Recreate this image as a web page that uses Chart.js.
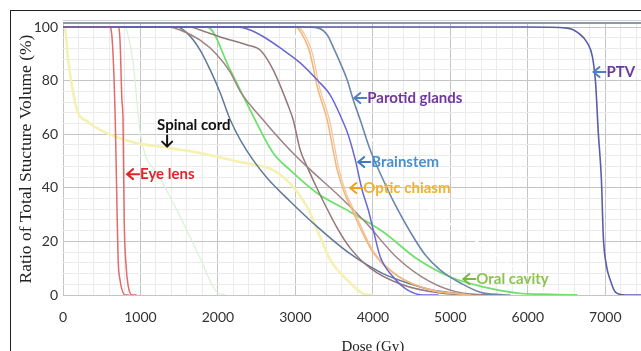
<!DOCTYPE html>
<html>
<head>
<meta charset="utf-8">
<script src="https://cdn.jsdelivr.net/npm/chart.js@4.4.1/dist/chart.umd.min.js"></script>
<style>
    html, body { margin: 0; padding: 0; background: #fff; overflow: hidden; }
    body { width: 641px; height: 351px; position: relative; }
    .frame { position: absolute; left: 10px; top: 10px; width: 720px; height: 420px; border: 1px solid #222; }
    #dvh { position: absolute; left: 0; top: 0; }
</style>
</head>
<body>
<div class="frame"></div>
<canvas id="dvh" width="713" height="375"></canvas>
<script>
'use strict';

// Dose (Gy) / volume (%) pairs
const ptvDose = [0, 6000, 6510, 6650, 6770, 6835, 6875, 6910, 6950, 6975, 7015, 7065, 7130, 7260, 8000];
const ptvVol = [100, 100, 99.6, 97.8, 94, 88.8, 79, 60.5, 43, 21.5, 11, 5.5, 1.1, 0, 0];

const lensADose = [0, 600, 630, 660, 675, 700, 712, 736, 762, 800, 850];
const lensAVol = [100, 100, 97, 80, 65, 28, 13, 5.6, 1.9, 0, 0];
const lensBDose = [0, 710, 736, 760, 775, 790, 814, 840, 890, 950];
const lensBVol = [100, 100, 95, 73, 65, 28, 11, 3.7, 0, 0];

const cordDose = [0, 26, 65, 116, 181, 323, 478, 904, 1344, 1770, 2287, 2713, 2972, 3152, 3282, 3450, 3708, 3876, 4000];
const cordVol = [100, 99.6, 88, 78, 69, 64.6, 61.6, 57, 55, 53, 49.6, 46.6, 40.3, 32.8, 24.3, 13.1, 4.5, 0.5, 0];

const paleDose = [0, 800, 830, 900, 1000, 1250, 1500, 1750, 1990, 2100];
const paleVol = [100, 100, 98, 88, 60, 44, 30, 15, 1, 0];

const oralDose = [0, 1860, 2158, 2416, 2713, 2933, 3282, 3708, 4134, 4574, 5000, 5426, 5866, 6300, 6640];
const oralVol = [100, 100, 84, 69, 53, 46.6, 38, 31, 23.5, 13.4, 6.7, 3, 0.7, 0.2, 0];

const slateDose = [0, 1470, 1600, 1770, 1900, 2030, 2160, 2290, 2450, 2640, 2930, 3280, 3700, 4130, 4500, 4750, 5250];
const slateVol = [100, 100, 97.8, 91.4, 84, 75.4, 65.3, 57.8, 50.5, 43.5, 35, 25.5, 15.5, 8, 4, 2, 0];

const brownADose = [0, 1357, 1512, 1770, 1990, 2158, 2287, 2584, 2868, 3152, 3579, 3902, 4315, 4742, 5168, 5646];
const brownAVol = [100, 100, 98.9, 95.1, 89.6, 83.2, 76, 65.3, 56, 47.8, 36.6, 27.2, 13.8, 4.9, 0.7, 0];
const brownBDose = [0, 1641, 1770, 2028, 2377, 2545, 2713, 2894, 2972, 3062, 3152, 3320, 3540, 3708, 3966, 4354, 4871, 5388];
const brownBVol = [100, 100, 98.9, 96.3, 93.3, 91.4, 84, 71.6, 65.3, 54.1, 47.8, 37.3, 25, 17.5, 10, 4.1, 0.7, 0];

const chiasmADose = [0, 3000, 3127, 3191, 3282, 3411, 3488, 3540, 3643, 3734, 3837, 4005, 4315, 4742, 5258];
const chiasmBDose = [0, 3030, 3157, 3221, 3310, 3440, 3515, 3565, 3665, 3755, 3857, 4022, 4330, 4755, 5270];
const chiasmVol = [100, 100, 95, 90, 77.6, 65.3, 54, 46.6, 37.3, 31.7, 25, 15.7, 7.1, 1.9, 0];

const brainDose = [0, 2250, 2416, 2610, 2842, 3062, 3282, 3450, 3579, 3682, 3773, 3863, 3941, 4005, 4096, 4264, 4444, 4651, 4850];
const brainVol = [100, 100, 98.9, 96, 91.4, 86.6, 80.2, 74.6, 67, 59.7, 50.4, 39, 31.7, 24.3, 14.2, 6.7, 1.9, 0, 0];

const parotidDose = [0, 3062, 3295, 3411, 3488, 3579, 3669, 3747, 3837, 3966, 4134, 4289, 4483, 4677, 4871, 5129, 5426, 5775];
const parotidVol = [100, 100, 99.6, 97, 92.5, 86.6, 80.2, 72.8, 65.3, 54.1, 42.9, 33.6, 23.5, 14.9, 9.3, 4.5, 0.7, 0];

const whiteDose = [0, 2800, 2970, 3280, 3540, 3800, 4060, 4260, 4700, 5260, 5740, 6070, 6230];
const whiteVol = [100, 100, 97.8, 81.3, 72.8, 65.3, 55.2, 46.6, 32.8, 21.6, 11.9, 5.6, 0];

const xTicksMajor = [0, 1000, 2000, 3000, 4000, 5000, 6000, 7000, 8000];
const yTicksMajor = [0, 20, 40, 60, 80, 100];

// arrow labels: arrow tip in data units
const notes = [
    { text: 'PTV', dose: 6848, vol: 83.2, color: '#6a3a9c', arrow: '#4f7fc2' },
    { text: 'Parotid glands', dose: 3760, vol: 73.5, color: '#7236a0', arrow: '#4f7fc2' },
    { text: 'Brainstem', dose: 3811, vol: 49.6, color: '#4a8fcc', arrow: '#3f78c0' },
    { text: 'Optic chiasm', dose: 3708, vol: 39.9, color: '#f2b22e', arrow: '#f0a020' },
    { text: 'Oral cavity', dose: 5168, vol: 6, color: '#8cc453', arrow: '#7ab840' },
    { text: 'Eye lens', dose: 827, vol: 45.1, color: '#e2242a', arrow: '#e2242a' }
];
const cordNote = { text: 'Spinal cord', dose: 1344, vol: 55 };

function pts(doses, vols) {
    return doses.map((d, i) => ({ x: d, y: vols[i] }));
}

function line(data, color, width) {
    return {
        data,
        borderColor: color,
        borderWidth: width || 1.5,
        pointRadius: 0,
        fill: false,
        cubicInterpolationMode: 'monotone'
    };
}

const labelFont = 'bold 15px Lato, "Open Sans", sans-serif';

const annotate = {
    id: 'annotate',
    afterDatasetsDraw(chart) {
        const { ctx, chartArea, scales: { x, y } } = chart;
        ctx.save();

        // top rule of the plot
        ctx.strokeStyle = '#cfd4da';
        ctx.lineWidth = 1;
        ctx.beginPath();
        ctx.moveTo(chartArea.left, chartArea.top - 2.5);
        ctx.lineTo(chartArea.right, chartArea.top - 2.5);
        ctx.stroke();
        ctx.strokeStyle = '#8e99a8';
        ctx.lineWidth = 2;
        ctx.beginPath();
        ctx.moveTo(chartArea.left, chartArea.top);
        ctx.lineTo(chartArea.right, chartArea.top);
        ctx.stroke();

        ctx.font = labelFont;
        ctx.textBaseline = 'middle';
        ctx.textAlign = 'left';
        ctx.lineCap = 'round';
        notes.forEach((n) => {
            const px = x.getPixelForValue(n.dose);
            const py = y.getPixelForValue(n.vol);
            ctx.strokeStyle = n.arrow;
            ctx.lineWidth = 2;
            ctx.beginPath();
            ctx.moveTo(px + 6, py - 5);
            ctx.lineTo(px, py);
            ctx.lineTo(px + 6, py + 5);
            ctx.moveTo(px, py);
            ctx.lineTo(px + 12, py);
            ctx.stroke();
            ctx.fillStyle = n.color;
            ctx.fillText(n.text, px + 13, py);
        });

        const cx = x.getPixelForValue(cordNote.dose);
        const cy = y.getPixelForValue(cordNote.vol);
        ctx.fillStyle = '#111';
        ctx.fillText(cordNote.text, cx - 10, cy - 22);
        ctx.strokeStyle = '#111';
        ctx.lineWidth = 2;
        ctx.beginPath();
        ctx.moveTo(cx, cy - 12);
        ctx.lineTo(cx, cy - 1);
        ctx.moveTo(cx - 5, cy - 6);
        ctx.lineTo(cx, cy - 1);
        ctx.lineTo(cx + 5, cy - 6);
        ctx.stroke();

        ctx.restore();
    }
};

new Chart(document.getElementById('dvh'), {
    type: 'line',
    data: {
        datasets: [
            line(pts(ptvDose, ptvVol), '#5b5ea8', 1.6),
            line(pts(lensADose, lensAVol), '#e46a6a', 1.5),
            line(pts(lensBDose, lensBVol), '#e46a6a', 1.5),
            line(pts(brainDose, brainVol), '#6868d4', 1.5),
            line(pts(parotidDose, parotidVol), '#6c87ad', 1.6),
            line(pts(chiasmADose, chiasmVol), '#f3b677', 1.5),
            line(pts(chiasmBDose, chiasmVol), '#f4c39a', 1.2),
            line(pts(brownADose, brownAVol), '#a08284', 1.5),
            line(pts(brownBDose, brownBVol), '#957779', 1.5),
            line(pts(slateDose, slateVol), '#60799a', 1.5),
            line(pts(oralDose, oralVol), '#6fe06c', 1.8),
            line(pts(cordDose, cordVol), '#f5f1b0', 2.6),
            line(pts(paleDose, paleVol), '#dcf1dc', 1.3),
            line(pts(whiteDose, whiteVol), '#ffffff', 1.6)
        ]
    },
    options: {
        responsive: false,
        animation: false,
        layout: { padding: { top: 23, right: 0, left: 0, bottom: 0 } },
        plugins: {
            legend: { display: false },
            tooltip: { enabled: false }
        },
        scales: {
            x: {
                type: 'linear',
                min: 0,
                max: 8000,
                border: { display: false },
                grid: {
                    drawTicks: false,
                    color: (c) => (xTicksMajor.includes(c.tick.value) ? '#c4c4c4' : '#ebebeb')
                },
                ticks: {
                    stepSize: 200,
                    autoSkip: false,
                    maxRotation: 0,
                    padding: 14,
                    color: '#333',
                    font: { family: 'Lato, "Open Sans", sans-serif', size: 14 },
                    callback: (v) => (xTicksMajor.includes(v) ? String(v) : '')
                },
                title: {
                    display: true,
                    text: 'Dose (Gy)',
                    color: '#222',
                    font: { family: '"Liberation Serif", "DejaVu Serif", serif', size: 15 },
                    padding: { top: 0, bottom: 19 }
                },
                afterFit: (s) => { s.height = 80; }
            },
            y: {
                min: 0,
                max: 101.5,
                border: { display: false },
                grid: {
                    drawTicks: false,
                    color: (c) => (yTicksMajor.includes(c.tick.value) ? '#c4c4c4' : '#ebebeb')
                },
                ticks: {
                    stepSize: 4,
                    includeBounds: false,
                    autoSkip: false,
                    padding: 5,
                    color: '#333',
                    font: { family: 'Lato, "Open Sans", sans-serif', size: 14 },
                    callback: (v) => (yTicksMajor.includes(v) ? String(v) : '')
                },
                title: {
                    display: true,
                    text: 'Ratio of Total Stucture Volume (%)',
                    color: '#222',
                    font: { family: '"Liberation Serif", "DejaVu Serif", serif', size: 17.5 },
                    padding: { top: 16, bottom: 0 }
                },
                afterFit: (s) => { s.width = 63; }
            }
        }
    },
    plugins: [annotate]
});
</script>
</body>
</html>
